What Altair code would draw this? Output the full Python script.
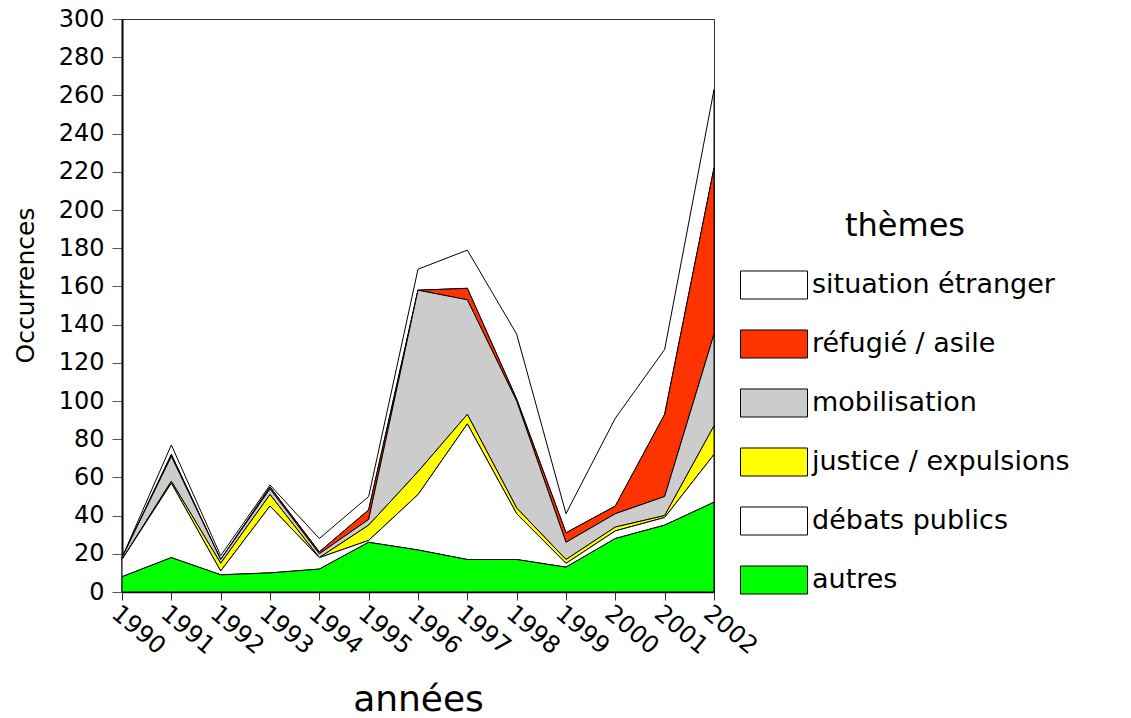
import altair as alt
import pandas as pd

years = [1990, 1991, 1992, 1993, 1994, 1995, 1996, 1997, 1998, 1999, 2000, 2001, 2002]
autres = [8, 18, 9, 10, 12, 26, 22, 17, 17, 13, 28, 35, 47]
debats = [9, 39, 2, 35, 6, 1, 29, 71, 24, 2, 4, 4, 25]
justice = [0, 1, 4, 6, 0, 8, 12, 5, 3, 2, 2, 1, 15]
mobilisation = [1, 13, 2, 3, 2, 3, 95, 60, 56, 9, 7, 10, 48]
refugie = [0, 1, 0, 1, 1, 5, 0, 6, 1, 5, 4, 43, 87]
situation = [0, 5, 2, 1, 7, 7, 11, 20, 34, 10, 46, 34, 41]

themes = ["situation étranger", "réfugié / asile", "mobilisation",
          "justice / expulsions", "débats publics", "autres"]
colors = ["#FFFFFF", "#FF3300", "#CCCCCC", "#FFFF00", "#FFFFFF", "#00FF00"]
series = [situation, refugie, mobilisation, justice, debats, autres]

rows = []
for i, (name, vals) in enumerate(zip(themes, series)):
    for y, v in zip(years, vals):
        rows.append({"année": y, "thème": name, "occ": v, "rang": len(themes) - 1 - i})
df = pd.DataFrame(rows)

FONT = "DejaVu Sans"
rect_path = "M-1,-0.418L1,-0.418L1,0.418L-1,0.418Z"

chart = alt.Chart(df).mark_area(
    stroke="black", strokeWidth=1, interpolate="linear", opacity=1
).encode(
    x=alt.X("année:Q",
            scale=alt.Scale(domain=[1990, 2002], nice=False, zero=False),
            axis=alt.Axis(values=years, format="d", title="années",
                          labelAngle=40, labelAlign="left", labelBaseline="top",
                          labelFontSize=24, labelFont=FONT, labelColor="black",
                          labelPadding=1, tickSize=8, tickColor="#333",
                          domainColor="black", domainWidth=1.5, grid=False,
                          titleFont=FONT, titleFontSize=36, titleFontWeight="normal",
                          titleColor="black", titleX=296, titleY=118,
                          titleBaseline="alphabetic", titleAlign="center",
                          labelOverlap=False, labelFlush=False)),
    y=alt.Y("occ:Q", stack="zero",
            scale=alt.Scale(domain=[0, 300], nice=False),
            axis=alt.Axis(values=list(range(0, 301, 20)), title="Occurrences",
                          labelFontSize=24, labelFont=FONT, labelColor="black",
                          labelPadding=8, tickSize=10, tickColor="#555",
                          domainColor="black", domainWidth=2, grid=False,
                          titleFont=FONT, titleFontSize=25, titleFontWeight="normal",
                          titleColor="black", titleAngle=-90, titleX=-89, titleY=266,
                          titleBaseline="alphabetic", titleAlign="center")),
    color=alt.Color("thème:N",
                    scale=alt.Scale(domain=themes, range=colors),
                    legend=alt.Legend(
                        title="thèmes", orient="none", legendX=618, legendY=192,
                        symbolType=rect_path, symbolSize=4489,
                        symbolStrokeColor="black", symbolStrokeWidth=1,
                        symbolOpacity=1,
                        labelFont=FONT, labelFontSize=27, labelColor="black",
                        labelLimit=400, labelOffset=4, labelBaseline="middle",
                        titleFont=FONT, titleFontSize=32, titleFontWeight="normal",
                        titleColor="black", titleAnchor="middle", titlePadding=8,
                        rowPadding=8)),
    order=alt.Order("rang:Q", sort="ascending"),
).properties(
    width=592, height=573,
    autosize=alt.AutoSizeParams(type="none"),
    padding={"left": 114, "top": 11, "right": 409, "bottom": 130},
).configure_view(
    stroke="#333", strokeWidth=1
)

chart.save("out.html", embed_options={"renderer": "svg", "actions": False})
